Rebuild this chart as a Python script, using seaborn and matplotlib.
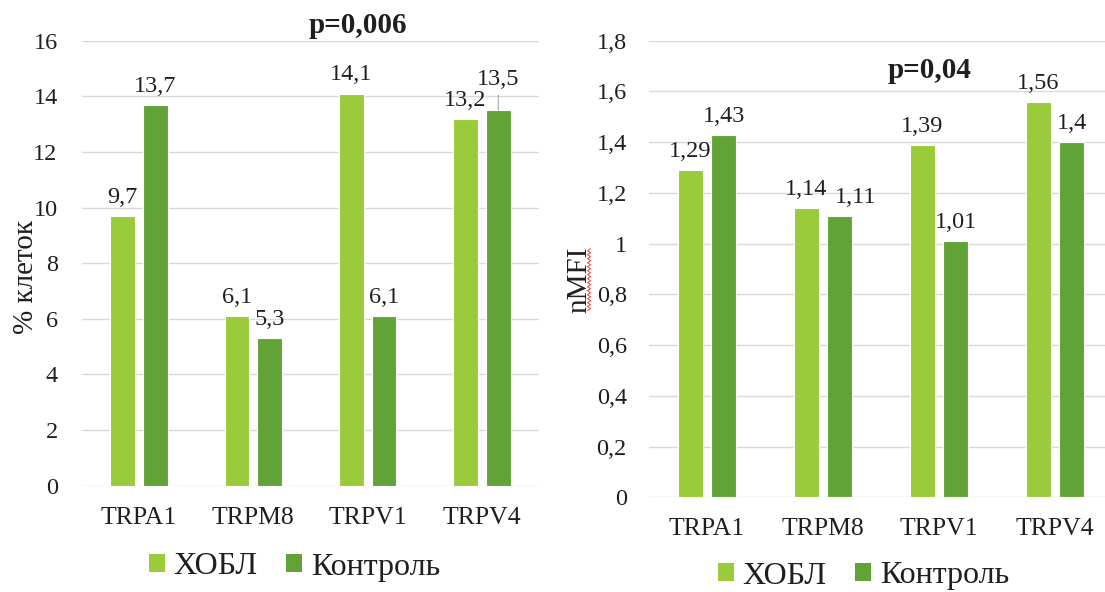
import numpy as np
import pandas as pd
import matplotlib
matplotlib.use("Agg")
import matplotlib.pyplot as plt
import seaborn as sns
from matplotlib.ticker import FuncFormatter, MultipleLocator
from matplotlib.patches import Patch
from matplotlib.lines import Line2D

# ---- data -------------------------------------------------------------
channels = ["TRPA1", "TRPM8", "TRPV1", "TRPV4"]
groups = ["ХОБЛ", "Контроль"]

copd_pct = [9.7, 6.1, 14.1, 13.2]      # % клеток, ХОБЛ
ctrl_pct = [13.7, 5.3, 6.1, 13.5]      # % клеток, Контроль
copd_nmfi = [1.29, 1.14, 1.39, 1.56]   # nMFI, ХОБЛ
ctrl_nmfi = [1.43, 1.11, 1.01, 1.40]   # nMFI, Контроль

p_left = "p=0,006"
p_right = "p=0,04"

# ---- style ------------------------------------------------------------
colors = ["#9ACB3A", "#62A337"]
text_col = "#1F1F1F"
grid_col = "#D9D9D9"

sns.set_theme(style="white")
plt.rcParams["font.family"] = ["Liberation Serif", "DejaVu Serif"]
plt.rcParams["text.color"] = text_col
plt.rcParams["xtick.color"] = text_col
plt.rcParams["ytick.color"] = text_col
plt.rcParams["axes.labelcolor"] = text_col

W, H = 1105, 592
fig = plt.figure(figsize=(W / 100, H / 100), dpi=100)


def px_axes(x0, x1, ytop, ybot):
    return fig.add_axes([x0 / W, 1 - ybot / H, (x1 - x0) / W, (ybot - ytop) / H])


def comma_fmt(v, _pos=None):
    return f"{v:g}".replace(".", ",")


def long_frame(a, b):
    return pd.DataFrame({
        "channel": channels * 2,
        "group": [groups[0]] * len(channels) + [groups[1]] * len(channels),
        "value": list(a) + list(b),
    })


def draw_panel(ax, a, b, ymax, step, ylabel, ytick_pad, shifted=None):
    """shifted: {(channel, group): (dx_pt, dy_pt, leader_line)} for moved value labels"""
    shifted = shifted or {}
    df = long_frame(a, b)
    sns.barplot(data=df, x="channel", y="value", hue="group",
                order=channels, hue_order=groups, palette=colors,
                saturation=1, width=0.574, gap=0.244, errorbar=None,
                edgecolor="white", linewidth=0.8, legend=False, ax=ax)
    ax.set_ylim(0, ymax)
    ax.set_xlim(-0.5, len(channels) - 0.5)
    ax.yaxis.set_major_locator(MultipleLocator(step))
    ax.yaxis.set_major_formatter(FuncFormatter(comma_fmt))
    ax.grid(axis="y", color=grid_col, lw=1.0)
    ax.grid(axis="x", visible=False)
    ax.set_axisbelow(True)
    sns.despine(ax=ax, left=True, bottom=True)
    ax.tick_params(axis="y", length=0, pad=ytick_pad, labelsize=17.5)
    ax.tick_params(axis="x", length=0, pad=15, labelsize=18.5)
    ax.set_xlabel("")
    ax.set_ylabel(ylabel, fontsize=21, va="center")

    # value labels above the bars
    for cont, vals, grp in zip(ax.containers, [a, b], groups):
        for bar, v, ch in zip(cont, vals, channels):
            xc = bar.get_x() + bar.get_width() / 2
            dx, dy, leader = shifted.get((ch, grp), (0.0, 0.0, False))
            kw = {}
            if leader:
                kw["arrowprops"] = dict(arrowstyle="-", color="#A6A6A6",
                                        lw=0.8, shrinkA=1, shrinkB=0)
            ax.annotate(comma_fmt(v), (xc, v), xytext=(dx, 9.4 + dy),
                        textcoords="offset points", ha="center",
                        va="baseline", fontsize=17.5, **kw)


ax1 = px_axes(82, 539, 40.7, 485.7)
ax2 = px_axes(649, 1113, 40.7, 497.3)

draw_panel(ax1, copd_pct, ctrl_pct, 16, 2, "% клеток", 17.5,
           shifted={("TRPV4", "Контроль"): (0.0, 8.6, True)})
draw_panel(ax2, copd_nmfi, ctrl_nmfi, 1.8, 0.2, "nMFI", 16,
           shifted={("TRPM8", "Контроль"): (11.5, 0.0, False)})

ax1.yaxis.set_label_coords((26 - 82) / 457, 0.469)
ax2.yaxis.set_label_coords((579 - 649) / 464, 0.477)

# significance notes
fig.text(358 / W, 1 - 33 / H, p_left, ha="center", va="baseline",
         fontsize=21, fontweight="bold")
fig.text(930 / W, 1 - 78 / H, p_right, ha="center", va="baseline",
         fontsize=21, fontweight="bold")

# legends under each panel
handles = [Patch(facecolor=c, edgecolor="none") for c in colors]
leg_kw = dict(loc="center", ncol=2, frameon=False, fontsize=23,
              handlelength=0.5, handleheight=0.5, handletextpad=0.28,
              columnspacing=0.9, borderpad=0, borderaxespad=0)
fig.legend(handles, groups, bbox_to_anchor=(294.5 / W, 1 - 567 / H), **leg_kw)
fig.legend(handles, groups, bbox_to_anchor=(863.5 / W, 1 - 576 / H), **leg_kw)

# wavy spell-check underline beside the nMFI label
fig.canvas.draw()
bb = ax2.yaxis.label.get_window_extent(fig.canvas.get_renderer())
ys = np.arange(bb.y0 + 2, bb.y1 - 2, 2.0)
xs = bb.x1 - 3 + np.where(np.arange(len(ys)) % 2 == 0, -1.5, 1.5)
fig.add_artist(Line2D(xs / W, ys / H, transform=fig.transFigure,
                      color="#FF3B3B", lw=0.7))

fig.savefig("out.png", dpi=100, facecolor="white")
